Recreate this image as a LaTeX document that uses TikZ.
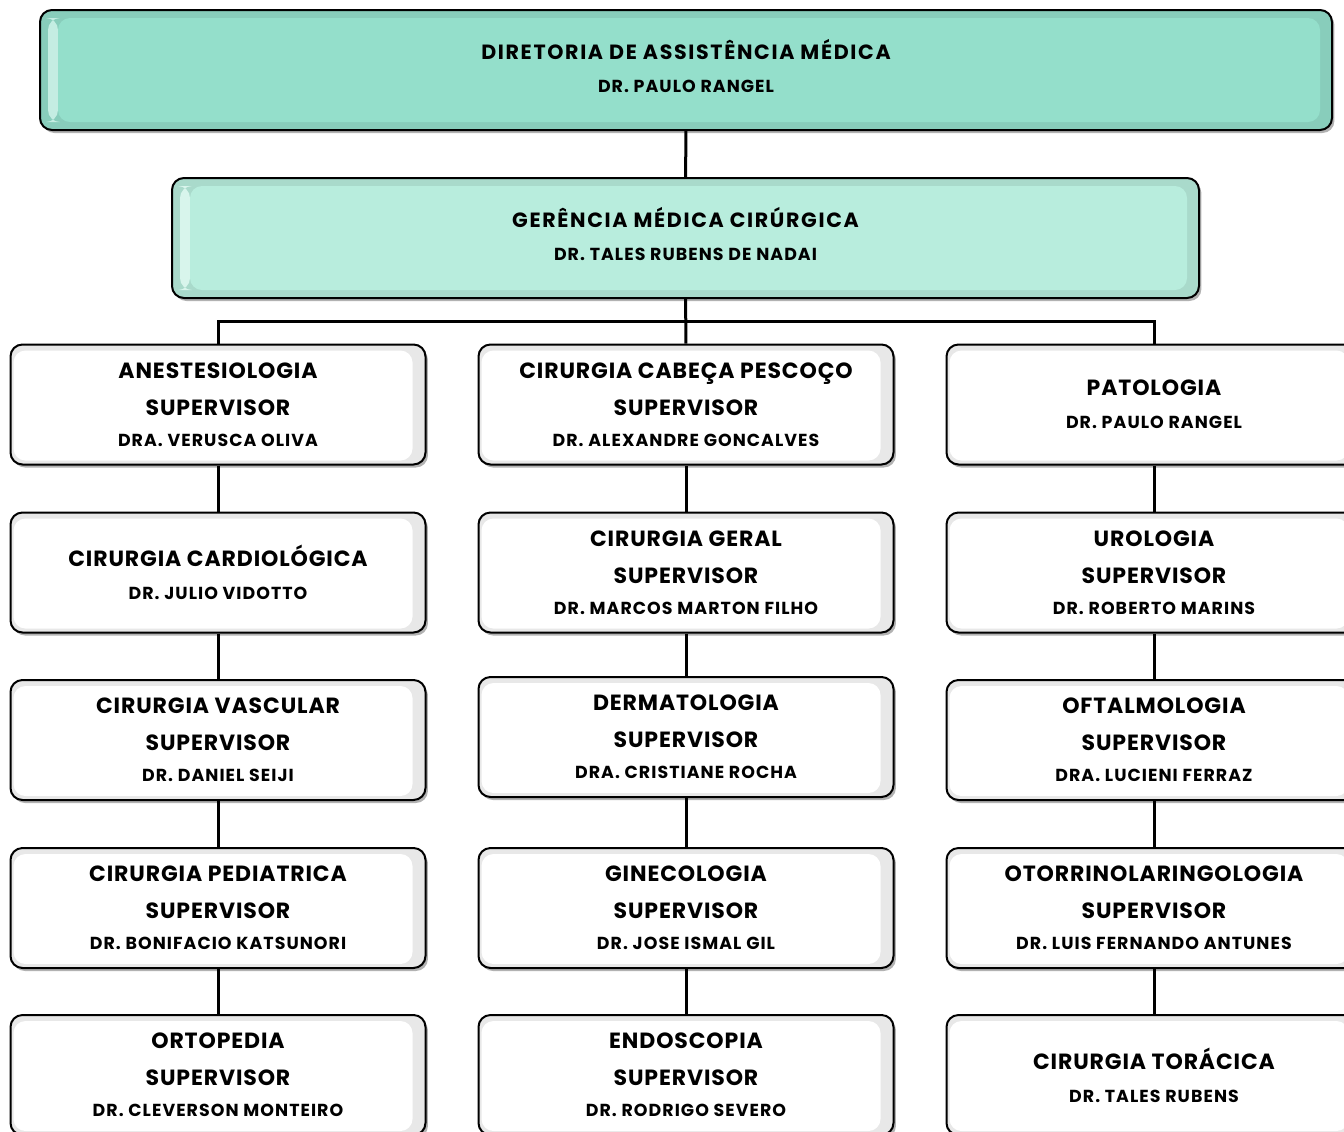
\documentclass[tikz,border=0pt]{standalone}
\usepackage{fontspec}
\setmainfont{Poppins}
\usetikzlibrary{shadows}

\definecolor{dirgreen}{HTML}{94DFCB}
\definecolor{gergreen}{HTML}{B8EDDD}
\newcommand{\tfont}{\fontsize{11}{18.5}\selectfont\addfontfeature{LetterSpace=4}}
\newcommand{\hfont}{\fontsize{10.3}{16.3}\selectfont\addfontfeature{LetterSpace=8}}
\newcommand{\nfont}{\fontsize{8.7}{15.5}\selectfont\addfontfeature{LetterSpace=6}}

\tikzset{
	panel/.style={draw=black, line width=1pt, rounded corners=6pt, align=center, inner sep=0pt,
		drop shadow={shadow xshift=1.2pt, shadow yshift=-1.5pt, opacity=0.3, fill=black}},
	unit/.style={panel, fill=white, minimum width=207.5pt, minimum height=60pt, font=\bfseries\tfont,
		path picture={
			\fill[black!9] (path picture bounding box.south west) rectangle (path picture bounding box.north east);
			\fill[white] ([shift={(1.5pt,2pt)}]path picture bounding box.south west) rectangle ([shift={(-6.5pt,-3pt)}]path picture bounding box.north east);}},
	head/.style={panel, fill=#1, minimum height=60pt, font=\bfseries\hfont, text depth=4pt,
		path picture={
			\fill[#1!92!black] (path picture bounding box.south west) rectangle (path picture bounding box.north east);
			\fill[#1!55!white] ([shift={(4pt,4pt)}]path picture bounding box.south west) rectangle ([shift={(9pt,-4pt)}]path picture bounding box.north west);
			\fill[#1] ([shift={(9pt,4pt)}]path picture bounding box.south west) rectangle ([shift={(-6pt,-4pt)}]path picture bounding box.north east);}},
	link/.style={line width=1.5pt},
}

\begin{document}
\begin{tikzpicture}[x=0.5pt, y=-0.5pt]
	\useasboundingbox (0,0) rectangle (1344,1131);
	% direcao
	\node[head=dirgreen, minimum width=646pt] (dir) at (686,70) {DIRETORIA DE ASSISTÊNCIA MÉDICA\\{\nfont DR. PAULO RANGEL}};
	\node[head=gergreen, minimum width=513.5pt] (ger) at (685.5,238) {GERÊNCIA MÉDICA CIRÚRGICA\\{\nfont DR. TALES RUBENS DE NADAI}};
	% coluna esquerda
	\node[unit] (a1) at (218,404.5) {ANESTESIOLOGIA\\SUPERVISOR\\[-3pt]\nfont DRA. VERUSCA OLIVA};
	\node[unit] (a2) at (218,572.5) {CIRURGIA CARDIOLÓGICA\\[-2pt]\nfont DR. JULIO VIDOTTO};
	\node[unit] (a3) at (218,740) {CIRURGIA VASCULAR\\SUPERVISOR\\[-3pt]\nfont DR. DANIEL SEIJI};
	\node[unit] (a4) at (218,908) {CIRURGIA PEDIATRICA\\SUPERVISOR\\[-3pt]\nfont DR. BONIFACIO KATSUNORI};
	\node[unit] (a5) at (218,1075) {ORTOPEDIA\\SUPERVISOR\\[-3pt]\nfont DR. CLEVERSON MONTEIRO};
	% coluna central
	\node[unit] (b1) at (686,404.5) {CIRURGIA CABEÇA PESCOÇO\\SUPERVISOR\\[-3pt]\nfont DR. ALEXANDRE GONCALVES};
	\node[unit] (b2) at (686,572.5) {CIRURGIA GERAL\\SUPERVISOR\\[-3pt]\nfont DR. MARCOS MARTON FILHO};
	\node[unit] (b3) at (686,737) {DERMATOLOGIA\\SUPERVISOR\\[-3pt]\nfont DRA. CRISTIANE ROCHA};
	\node[unit] (b4) at (686,908) {GINECOLOGIA\\SUPERVISOR\\[-3pt]\nfont DR. JOSE ISMAL GIL};
	\node[unit] (b5) at (686,1075) {ENDOSCOPIA\\SUPERVISOR\\[-3pt]\nfont DR. RODRIGO SEVERO};
	% coluna direita
	\node[unit] (c1) at (1154,404.5) {PATOLOGIA\\[-2pt]\nfont DR. PAULO RANGEL};
	\node[unit] (c2) at (1154,572.5) {UROLOGIA\\SUPERVISOR\\[-3pt]\nfont DR. ROBERTO MARINS};
	\node[unit] (c3) at (1154,740) {OFTALMOLOGIA\\SUPERVISOR\\[-3pt]\nfont DRA. LUCIENI FERRAZ};
	\node[unit] (c4) at (1154,908) {OTORRINOLARINGOLOGIA\\SUPERVISOR\\[-3pt]\nfont DR. LUIS FERNANDO ANTUNES};
	\node[unit] (c5) at (1154,1075) {CIRURGIA TORÁCICA\\[-2pt]\nfont DR. TALES RUBENS};
	% ligacoes
	\coordinate (bus) at (686,321);
	\draw[link] (dir) -- (ger);
	\draw[link] (ger) -- (b1);
	\draw[link] (a1.north) |- (bus) -| (c1.north);
	\draw[link] (a1) -- (a2);
	\draw[link] (a2) -- (a3);
	\draw[link] (a3) -- (a4);
	\draw[link] (a4) -- (a5);
	\draw[link] (b1) -- (b2);
	\draw[link] (b2) -- (b3);
	\draw[link] (b3) -- (b4);
	\draw[link] (b4) -- (b5);
	\draw[link] (c1) -- (c2);
	\draw[link] (c2) -- (c3);
	\draw[link] (c3) -- (c4);
	\draw[link] (c4) -- (c5);
\end{tikzpicture}
\end{document}
